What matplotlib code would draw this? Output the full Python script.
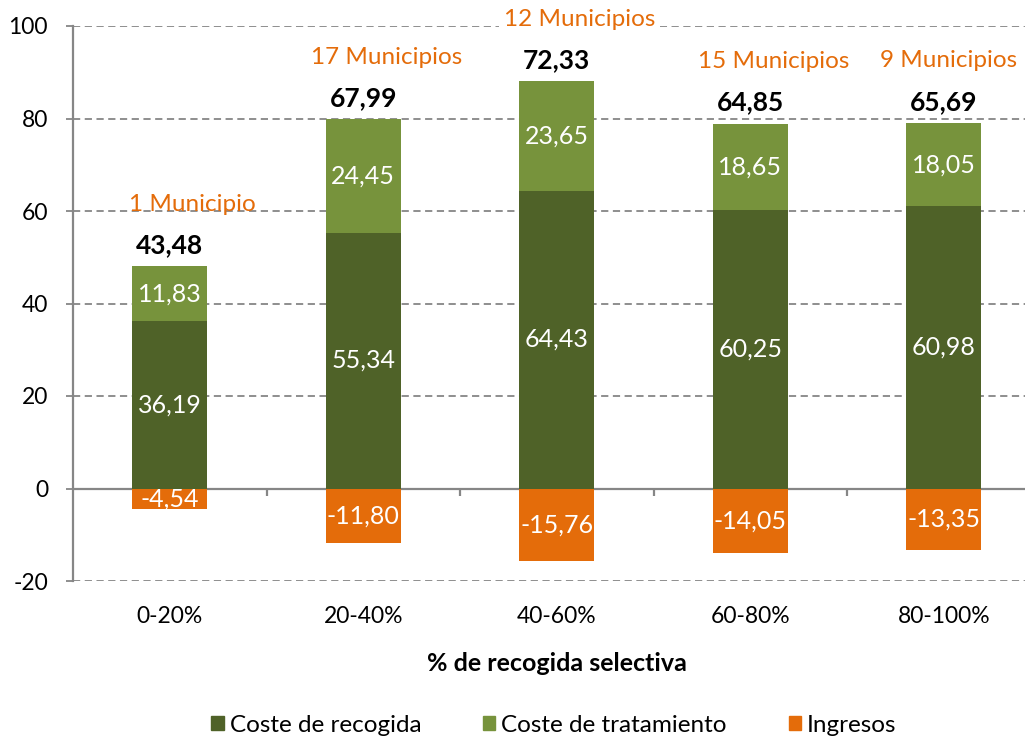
import matplotlib
matplotlib.use("Agg")
import matplotlib.pyplot as plt
from matplotlib.patches import Patch
import numpy as np

plt.rcParams['font.family'] = ['Lato', 'DejaVu Sans']

categories = ["0-20%", "20-40%", "40-60%", "60-80%", "80-100%"]
coste_recogida = [36.19, 55.34, 64.43, 60.25, 60.98]
coste_tratamiento = [11.83, 24.45, 23.65, 18.65, 18.05]
ingresos = [-4.54, -11.80, -15.76, -14.05, -13.35]
totales = [43.48, 67.99, 72.33, 64.85, 65.69]
municipios = ["1 Municipio", "17 Municipios", "12 Municipios", "15 Municipios", "9 Municipios"]
yticks = [-20, 0, 20, 40, 60, 80, 100]

c_rec = "#4F6228"
c_tra = "#77933C"
c_ing = "#E46C0A"
grid_c = "#868686"

fig = plt.figure(figsize=(10.25, 7.4), dpi=100)
ax = fig.add_axes([73/1025, 159/740, 967.5/1025, 555/740])

x = np.arange(len(categories))
w = 0.39
rec = np.array(coste_recogida)
tra = np.array(coste_tratamiento)
ing = np.array(ingresos)

ax.bar(x, rec, w, color=c_rec, zorder=3)
ax.bar(x, tra, w, bottom=rec, color=c_tra, zorder=3)
ax.bar(x, ing, w, color=c_ing, zorder=3)

def fmt(v):
    return f"{v:.2f}".replace(".", ",")

fs_in = 18
for i in range(len(x)):
    ax.text(x[i], rec[i] / 2, fmt(rec[i]), ha="center", va="center", color="white", fontsize=fs_in, zorder=4)
    ax.text(x[i], rec[i] + tra[i] / 2, fmt(tra[i]), ha="center", va="center", color="white", fontsize=fs_in, zorder=4)
    ax.text(x[i], ing[i] / 2, fmt(ing[i]), ha="center", va="center", color="white", fontsize=fs_in, zorder=4)
    top = rec[i] + tra[i]
    ax.annotate(fmt(totales[i]), (x[i], top), xytext=(0, 21), textcoords="offset pixels",
                ha="center", va="center", fontsize=19, fontweight="bold", color="black", zorder=5)
    kw = {}
    if i == 2:
        kw["bbox"] = dict(boxstyle="square,pad=0.2", fc="white", ec="none")
    dx = 23 if i < len(x) - 1 else 5
    ax.annotate(municipios[i], (x[i], top), xytext=(dx, 62), textcoords="offset pixels",
                ha="center", va="center", fontsize=17.5, color=c_ing, zorder=6, annotation_clip=False, **kw)

ax.set_xlim(-0.5, len(x) - 0.5)
ax.set_ylim(-20, 100)
ax.set_yticks(yticks)
ax.set_yticklabels([str(t) for t in yticks], fontsize=16.5)
for t in yticks:
    if t != 0:
        ax.axhline(t, color=grid_c, lw=1.3, dashes=(4, 2.5), zorder=1)
ax.axhline(0, color=grid_c, lw=1.6, zorder=2)
for b in np.arange(0.5, len(x) - 0.5, 1.0):
    ax.plot([b, b], [0, -1.7], color=grid_c, lw=1.6, zorder=2, solid_capstyle="butt")

ax.set_xticks(x)
ax.set_xticklabels(categories, fontsize=16.5)
ax.tick_params(axis="x", length=0, pad=18)
ax.tick_params(axis="y", length=5, width=1.3, color=grid_c, pad=13)
for s in ["top", "right", "bottom"]:
    ax.spines[s].set_visible(False)
ax.spines["left"].set_color(grid_c)
ax.spines["left"].set_linewidth(1.6)
ax.set_xlabel("% de recogida selectiva", fontsize=18, fontweight="bold", labelpad=18)

handles = [Patch(color=c_rec, label="Coste de recogida"),
           Patch(color=c_tra, label="Coste de tratamiento"),
           Patch(color=c_ing, label="Ingresos")]
fig.legend(handles=handles, loc="center", bbox_to_anchor=(554/1025, 15/740), ncol=3, frameon=False,
           fontsize=17.5, handlelength=0.5, handleheight=0.5, handletextpad=0.25, columnspacing=2.55)

fig.savefig("out.png", dpi=100)
